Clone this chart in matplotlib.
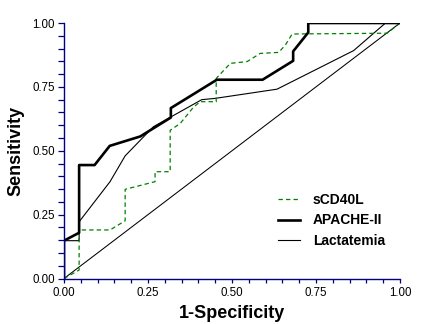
import matplotlib
matplotlib.use('Agg')
import matplotlib.pyplot as plt
from matplotlib.ticker import MultipleLocator

plt.rcParams['font.family'] = ['Liberation Sans', 'DejaVu Sans']

# ROC curves (1-specificity, sensitivity)
scd40l_x = [0.0, 0.045, 0.045, 0.137, 0.182, 0.182, 0.271, 0.271, 0.316, 0.316, 0.346,
            0.385, 0.405, 0.453, 0.453, 0.495, 0.545, 0.584, 0.639, 0.659, 0.679, 0.962, 1.0]
scd40l_y = [0.0, 0.033, 0.19, 0.19, 0.226, 0.349, 0.379, 0.418, 0.418, 0.58, 0.607,
            0.67, 0.692, 0.692, 0.783, 0.842, 0.849, 0.881, 0.885, 0.914, 0.957, 0.96, 1.0]

apache_x = [0.0, 0.0, 0.045, 0.045, 0.091, 0.136, 0.227, 0.318, 0.318, 0.455, 0.591,
            0.682, 0.682, 0.727, 0.727, 1.0]
apache_y = [0.0, 0.148, 0.179, 0.444, 0.444, 0.519, 0.556, 0.63, 0.667, 0.778, 0.778,
            0.852, 0.889, 0.963, 1.0, 1.0]

lact_x = [0.0, 0.0, 0.045, 0.045, 0.137, 0.182, 0.266, 0.41, 0.45, 0.634, 0.862, 0.957, 1.0]
lact_y = [0.0, 0.148, 0.148, 0.222, 0.379, 0.48, 0.594, 0.70, 0.705, 0.741, 0.892, 1.0, 1.0]

ref_x = [0.0, 1.0]
ref_y = [0.0, 1.0]

navy = '#000080'

fig = plt.figure(figsize=(4.27, 3.24), dpi=100)
ax = fig.add_axes([64 / 427, 45.5 / 324, 336 / 427, 255.5 / 324])

ax.plot(ref_x, ref_y, color='black', lw=0.75)
ax.plot(lact_x, lact_y, color='black', lw=0.8, label='Lactatemia')
ax.plot(scd40l_x, scd40l_y, color='#008000', lw=0.9, ls=(0, (3.5, 2.5)), label='sCD40L')
ax.plot(apache_x, apache_y, color='black', lw=1.9, label='APACHE-II')

ax.set_xlim(0, 1)
ax.set_ylim(0, 1)
for s in ['top', 'right']:
    ax.spines[s].set_visible(False)
for s in ['left', 'bottom']:
    ax.spines[s].set_color(navy)
    ax.spines[s].set_linewidth(1.0)

ax.xaxis.set_major_locator(MultipleLocator(0.25))
ax.xaxis.set_minor_locator(MultipleLocator(0.05))
ax.yaxis.set_major_locator(MultipleLocator(0.25))
ax.yaxis.set_minor_locator(MultipleLocator(0.05))
ax.xaxis.set_major_formatter(lambda v, p: f'{v:.2f}')
ax.yaxis.set_major_formatter(lambda v, p: f'{v:.2f}')
ax.tick_params(which='both', direction='out', color=navy, width=0.9, labelsize=8.3)
ax.tick_params(axis='y', which='both', length=4.5, pad=2)
ax.tick_params(axis='x', which='both', length=3.2, pad=3)

ax.set_xlabel('1-Specificity', fontsize=13, fontweight='bold', labelpad=4)
ax.set_ylabel('Sensitivity', fontsize=13, fontweight='bold', labelpad=6)

handles, labels = ax.get_legend_handles_labels()
order = [1, 2, 0]
ax.legend([handles[i] for i in order], [labels[i] for i in order],
          loc='center left', bbox_to_anchor=(278 / 427, (324 - 220.5) / 324),
          bbox_transform=fig.transFigure, frameon=False, borderpad=0, borderaxespad=0,
          handlelength=1.6, handletextpad=0.9, labelspacing=0.45,
          prop={'weight': 'bold', 'size': 10})

fig.savefig('out.png', dpi=100)
